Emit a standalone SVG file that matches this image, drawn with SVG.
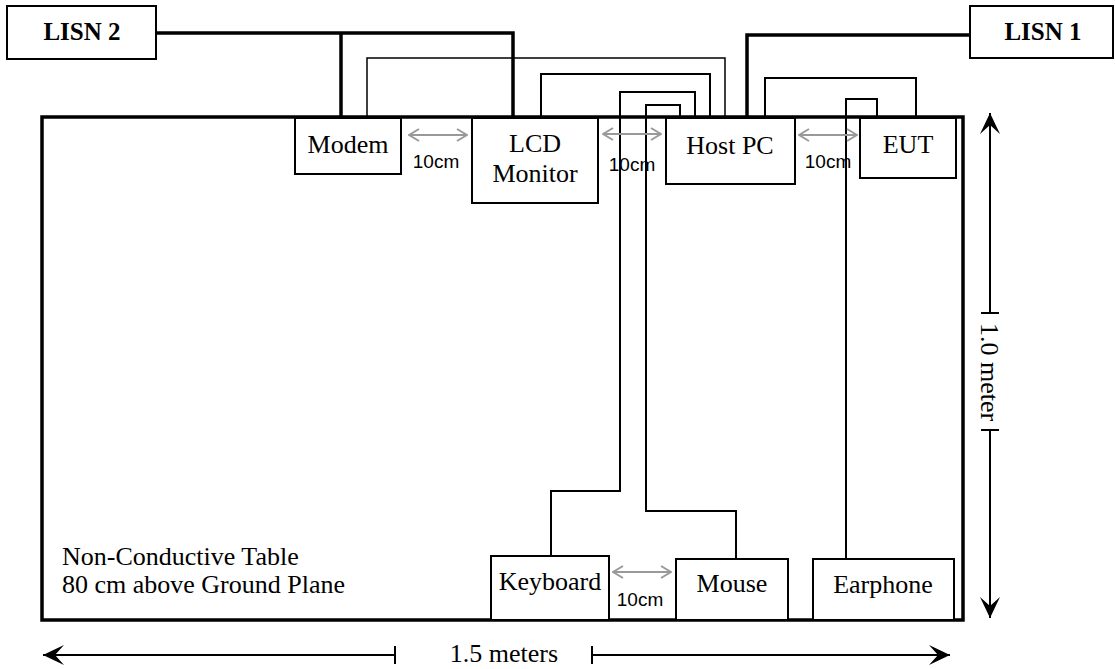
<svg xmlns="http://www.w3.org/2000/svg" width="1115" height="669" viewBox="0 0 1115 669">
<defs>
<style>
.box{fill:#fff;stroke:#000;stroke-width:2}
.lbl{font-family:"Liberation Serif","Times New Roman",serif;font-size:26px;fill:#000;text-anchor:middle}
.lisn{font-weight:bold;font-size:25px}
.cm{font-family:"Liberation Sans",Arial,sans-serif;font-size:19px;fill:#000;text-anchor:middle}
.thick{fill:none;stroke:#000;stroke-width:3.5}
.thin{fill:none;stroke:#000;stroke-width:2}
.gap{fill:none;stroke:#999;stroke-width:2;marker-start:url(#ga);marker-end:url(#ga)}
.dim{fill:none;stroke:#000;stroke-width:2}
</style>
<marker id="ga" markerUnits="userSpaceOnUse" viewBox="0 0 12 14" refX="11" refY="7" markerWidth="12" markerHeight="14" orient="auto-start-reverse">
<path d="M1,1 L11,7 L1,13" fill="none" stroke="#999" stroke-width="2"/>
</marker>
<marker id="da" markerUnits="userSpaceOnUse" viewBox="0 0 22 22" refX="21" refY="11" markerWidth="22" markerHeight="22" orient="auto">
<path d="M0,1 L21,11 L0,21 L9,11 Z" fill="#000"/>
</marker>
</defs>

<g id="table">
<rect x="42" y="117" width="921" height="503" fill="#fff" stroke="#000" stroke-width="3.5"/>
<text class="lbl" x="62" y="565" style="text-anchor:start">Non-Conductive Table</text>
<text class="lbl" x="62" y="593" style="text-anchor:start">80 cm above Ground Plane</text>
</g>

<g id="connectors">
<polyline class="thick" points="156,33 513,33 513,118"/>
<polyline class="thick" points="341,33 341,118"/>
<polyline class="thick" points="970,35 747,35 747,118"/>
<polyline class="thin" points="367,118 367,58 725,58 725,118" style="stroke-width:1.5"/>
<polyline class="thin" points="541,118 541,74 710,74 710,118"/>
<polyline class="thin" points="695,118 695,92 620,92 620,491 551,491 551,556"/>
<polyline class="thin" points="680,118 680,105 646,105 646,511 736,511 736,559"/>
<polyline class="thin" points="765,118 765,78 916,78 916,118"/>
<polyline class="thin" points="877,118 877,99 846,99 846,559"/>
</g>

<g id="spacing">
<line class="gap" x1="409" y1="135" x2="467" y2="135"/>
<text class="cm" x="436" y="168">10cm</text>
<line class="gap" x1="603" y1="134" x2="661" y2="134"/>
<text class="cm" x="632" y="171">10cm</text>
<line class="gap" x1="799" y1="135" x2="857" y2="135"/>
<text class="cm" x="828" y="168">10cm</text>
<line class="gap" x1="613" y1="572" x2="671" y2="572"/>
<text class="cm" x="640" y="606">10cm</text>
</g>

<g id="lisn2">
<rect class="box" x="7" y="6" width="149" height="53"/>
<text class="lbl lisn" x="82" y="40">LISN 2</text>
</g>
<g id="lisn1">
<rect class="box" x="970" y="6" width="143" height="52"/>
<text class="lbl lisn" x="1043" y="40">LISN 1</text>
</g>
<g id="modem">
<rect class="box" x="295" y="118" width="106" height="56"/>
<text class="lbl" x="348" y="153">Modem</text>
</g>
<g id="lcd">
<rect class="box" x="472" y="118" width="126" height="85"/>
<text class="lbl" x="535" y="152">LCD</text>
<text class="lbl" x="535" y="182">Monitor</text>
</g>
<g id="hostpc">
<rect class="box" x="666" y="118" width="129" height="66"/>
<text class="lbl" x="730" y="154">Host PC</text>
</g>
<g id="eut">
<rect class="box" x="860" y="118" width="96" height="60"/>
<text class="lbl" x="908" y="153">EUT</text>
</g>
<g id="keyboard">
<rect class="box" x="491" y="556" width="118" height="64"/>
<text class="lbl" x="550" y="590">Keyboard</text>
</g>
<g id="mouse">
<rect class="box" x="676" y="559" width="112" height="61"/>
<text class="lbl" x="732" y="592">Mouse</text>
</g>
<g id="earphone">
<rect class="box" x="813" y="559" width="141" height="61"/>
<text class="lbl" x="883" y="593">Earphone</text>
</g>

<g id="dim-width">
<line class="dim" x1="395" y1="655" x2="43" y2="655" marker-end="url(#da)"/>
<line class="dim" x1="395" y1="646" x2="395" y2="664"/>
<line class="dim" x1="592" y1="655" x2="950" y2="655" marker-end="url(#da)"/>
<line class="dim" x1="592" y1="646" x2="592" y2="664"/>
<text class="lbl" x="504" y="662">1.5 meters</text>
</g>
<g id="dim-height">
<line class="dim" x1="990" y1="313" x2="990" y2="113" marker-end="url(#da)"/>
<line class="dim" x1="981" y1="313" x2="999" y2="313"/>
<line class="dim" x1="990" y1="430" x2="990" y2="618" marker-end="url(#da)"/>
<line class="dim" x1="981" y1="430" x2="999" y2="430"/>
<text class="lbl" transform="translate(981,372) rotate(90)" x="0" y="0">1.0 meter</text>
</g>
</svg>
